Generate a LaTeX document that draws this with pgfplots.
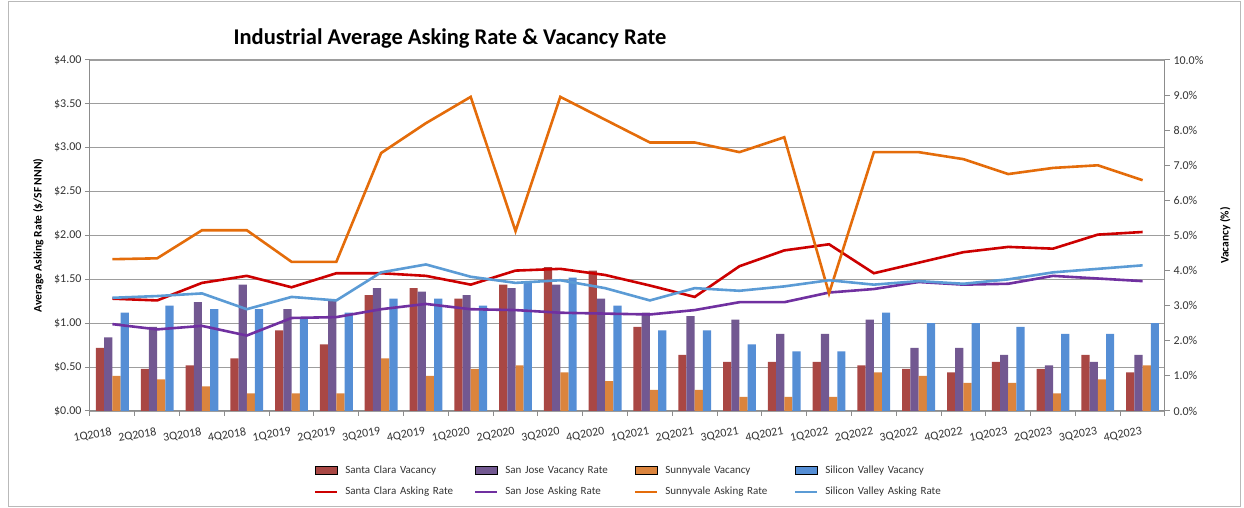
\documentclass[border=0pt]{standalone}
\usepackage{pgfplots}
\pgfplotsset{compat=1.18}
\usepackage{fontspec}
\setmainfont{Carlito}

\definecolor{scbar}{HTML}{A94744}
\definecolor{sjbar}{HTML}{725891}
\definecolor{svybar}{HTML}{DB843D}
\definecolor{svbar}{HTML}{558ED5}
\definecolor{scline}{HTML}{CC0000}
\definecolor{sjline}{HTML}{7030A0}
\definecolor{svyline}{HTML}{E46C0A}
\definecolor{svline}{HTML}{5B9BD5}
\definecolor{axgray}{HTML}{8C8C8C}
\definecolor{txt}{HTML}{333333}

\pgfplotsset{
  base/.style={
    scale only axis, width=1075pt, height=351pt,
    xmin=-0.5, xmax=23.5,
    at={(0pt,0pt)}, anchor=south west,
    /pgf/number format/assume math mode=true,
    tick label style={font=\fontsize{12}{14}\selectfont, text=txt},
    axis line style={axgray, line width=1pt},
    tick style={axgray, line width=1pt},
    major tick length=5pt,
    tick align=outside,
  },
  barleg/.style={legend image code/.code={\fill[##1] (0pt,-4pt) rectangle (22pt,4pt);}},
  lineleg/.style={legend image code/.code={\draw[##1, line width=2pt] (0pt,0pt) -- (22pt,0pt);}},
}

\begin{document}
\begin{tikzpicture}
\useasboundingbox (-90pt,-97pt) rectangle (1154pt,411pt);
\draw[gray!55, line width=1pt] (-81pt,-95pt) rectangle (1150pt,409pt);

% left axis: grid, $ ticks, quarter labels
\begin{axis}[base,
  ymin=0, ymax=4, ytick={0,0.5,...,4},
  ymajorgrids, grid style={axgray!85, line width=1.2pt},
  axis x line*=bottom, axis y line*=left,
  xtick={-0.5,0.5,...,23.5},
  x tick label as interval,
  xticklabels={1Q2018,2Q2018,3Q2018,4Q2018,1Q2019,2Q2019,3Q2019,4Q2019,1Q2020,2Q2020,3Q2020,4Q2020,1Q2021,2Q2021,3Q2021,4Q2021,1Q2022,2Q2022,3Q2022,4Q2022,1Q2023,2Q2023,3Q2023,4Q2023},
  xticklabel style={rotate=10, anchor=north east, yshift=-7pt},
  yticklabel={\$\pgfmathprintnumber[fixed,fixed zerofill,precision=2]{\tick}},
  ylabel={Average Asking Rate (\$/SF NNN)},
  every axis y label/.style={at={(axis description cs:-0.048,0.5)}, rotate=90, anchor=center,
    font=\bfseries\fontsize{11.5}{13}\selectfont},
]
\end{axis}

% right axis: vacancy bars
\begin{axis}[base,
  ymin=0, ymax=10, ytick={0,1,...,10},
  axis y line*=right, axis x line=none,
  ybar=0pt, bar width=8.2pt,
  yticklabel={\pgfmathprintnumber[fixed,fixed zerofill,precision=1]{\tick}\%},
  ylabel={Vacancy (\%)},
  every axis y label/.style={at={(axis description cs:1.056,0.5)}, rotate=90, anchor=center,
    font=\bfseries\fontsize{11.5}{13}\selectfont},
]
\addplot[fill=scbar, draw=none] coordinates {
(0,1.8) (1,1.2) (2,1.3) (3,1.5) (4,2.3) (5,1.9) (6,3.3) (7,3.5) (8,3.2) (9,3.6) (10,4.1) (11,4.0)
(12,2.4) (13,1.6) (14,1.4) (15,1.4) (16,1.4) (17,1.3) (18,1.2) (19,1.1) (20,1.4) (21,1.2) (22,1.6) (23,1.1)};
\addplot[fill=sjbar, draw=none] coordinates {
(0,2.1) (1,2.4) (2,3.1) (3,3.6) (4,2.9) (5,3.15) (6,3.5) (7,3.4) (8,3.3) (9,3.5) (10,3.6) (11,3.2)
(12,2.8) (13,2.7) (14,2.6) (15,2.2) (16,2.2) (17,2.6) (18,1.8) (19,1.8) (20,1.6) (21,1.3) (22,1.4) (23,1.6)};
\addplot[fill=svybar, draw=none] coordinates {
(0,1.0) (1,0.9) (2,0.7) (3,0.5) (4,0.5) (5,0.5) (6,1.5) (7,1.0) (8,1.2) (9,1.3) (10,1.1) (11,0.85)
(12,0.6) (13,0.6) (14,0.4) (15,0.4) (16,0.4) (17,1.1) (18,1.0) (19,0.8) (20,0.8) (21,0.5) (22,0.9) (23,1.3)};
\addplot[fill=svbar, draw=none] coordinates {
(0,2.8) (1,3.0) (2,2.9) (3,2.9) (4,2.65) (5,2.8) (6,3.2) (7,3.2) (8,3.0) (9,3.7) (10,3.8) (11,3.0)
(12,2.3) (13,2.3) (14,1.9) (15,1.7) (16,1.7) (17,2.8) (18,2.5) (19,2.5) (20,2.4) (21,2.2) (22,2.2) (23,2.5)};
\end{axis}

% asking rate lines + legend
\begin{axis}[base,
  ymin=0, ymax=4, hide axis,
  legend columns=4,
  legend style={at={(0.505,-0.145)}, anchor=north, draw=none, fill=none,
    font=\fontsize{11}{13}\selectfont, text=txt,
    nodes={inner sep=2pt, text width=124pt, align=left},
    /tikz/every even column/.append style={column sep=3pt},
    /tikz/every odd column/.append style={column sep=5pt},
    row sep=8pt},
]
\addlegendimage{barleg, fill=scbar}
\addlegendentry{Santa Clara Vacancy}
\addlegendimage{barleg, fill=sjbar}
\addlegendentry{San Jose Vacancy Rate}
\addlegendimage{barleg, fill=svybar}
\addlegendentry{Sunnyvale Vacancy}
\addlegendimage{barleg, fill=svbar}
\addlegendentry{Silicon Valley Vacancy}
\addplot[scline, line width=2.6pt, lineleg] coordinates {
(0,1.28) (1,1.26) (2,1.46) (3,1.54) (4,1.41) (5,1.57) (6,1.57) (7,1.54) (8,1.44) (9,1.60) (10,1.62) (11,1.55)
(12,1.43) (13,1.30) (14,1.65) (15,1.83) (16,1.90) (17,1.57) (18,1.69) (19,1.81) (20,1.87) (21,1.85) (22,2.01) (23,2.04)};
\addlegendentry{Santa Clara Asking Rate}
\addplot[sjline, line width=2.6pt, lineleg] coordinates {
(0,0.99) (1,0.93) (2,0.97) (3,0.86) (4,1.06) (5,1.07) (6,1.16) (7,1.22) (8,1.16) (9,1.15) (10,1.12) (11,1.11)
(12,1.10) (13,1.15) (14,1.24) (15,1.24) (16,1.35) (17,1.39) (18,1.47) (19,1.44) (20,1.45) (21,1.54) (22,1.51) (23,1.48)};
\addlegendentry{San Jose Asking Rate}
\addplot[svyline, line width=2.6pt, lineleg] coordinates {
(0,1.73) (1,1.74) (2,2.06) (3,2.06) (4,1.70) (5,1.70) (6,2.94) (7,3.28) (8,3.58) (9,2.05) (10,3.58) (11,3.32)
(12,3.06) (13,3.06) (14,2.95) (15,3.12) (16,1.34) (17,2.95) (18,2.95) (19,2.87) (20,2.70) (21,2.77) (22,2.80) (23,2.63)};
\addlegendentry{Sunnyvale Asking Rate}
\addplot[svline, line width=2.6pt, lineleg] coordinates {
(0,1.29) (1,1.31) (2,1.34) (3,1.16) (4,1.30) (5,1.26) (6,1.58) (7,1.67) (8,1.53) (9,1.46) (10,1.49) (11,1.40)
(12,1.26) (13,1.40) (14,1.37) (15,1.42) (16,1.49) (17,1.44) (18,1.48) (19,1.45) (20,1.50) (21,1.58) (22,1.62) (23,1.66)};
\addlegendentry{Silicon Valley Asking Rate}
\end{axis}

\node[font=\bfseries\fontsize{22.5}{26}\selectfont] at (360pt,372pt) {Industrial Average Asking Rate \& Vacancy Rate};
\end{tikzpicture}
\end{document}
